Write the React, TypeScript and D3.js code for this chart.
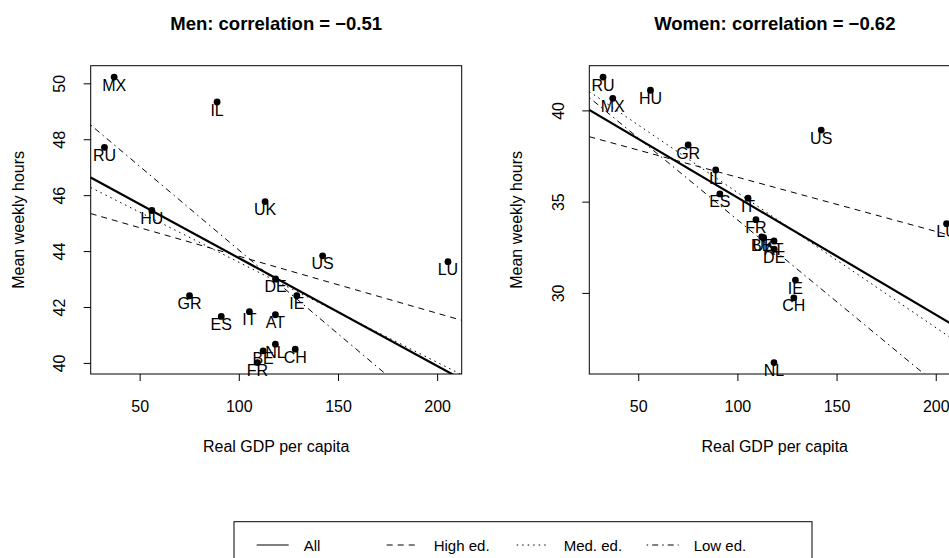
import React from "react";
import * as d3 from "d3";

const countries = ["MX","IL","RU","HU","UK","US","LU","DE","IE","GR","IT","AT","ES","NL","BE","CH","FR"];
const gdp = [36.9, 88.8, 32.0, 55.9, 113.0, 142.0, 205.2, 118.3, 129.0, 74.9, 105.1, 118.2, 90.9, 118.2, 112.0, 128.2, 109.1];
const menHours = [50.24, 49.35, 47.73, 45.47, 45.79, 43.85, 43.64, 43.02, 42.42, 42.42, 41.85, 41.74, 41.68, 40.69, 40.45, 40.51, 40.03];
const womenHours = [40.69, 36.76, 41.85, 41.13, 33.05, 38.95, 33.82, 32.42, 30.73, 38.13, 35.22, 32.87, 35.45, 26.21, 33.09, 29.76, 34.04];

const groups = ["All", "High ed.", "Med. ed.", "Low ed."];
const menIntercepts = [47.62, 45.87, 47.19, 50.03];
const menSlopes = [-0.0386, -0.0204, -0.0358, -0.0599];
const womenIntercepts = [41.66, 39.33, 42.91, 42.98];
const womenSlopes = [-0.0642, -0.0297, -0.074, -0.0897];

const xTicks = [50, 100, 150, 200];
const menYTicks = [40, 42, 44, 46, 48, 50];
const womenYTicks = [30, 35, 40];
const titles = ["Men: correlation = \u22120.51", "Women: correlation = \u22120.62"];

const W = 949, H = 558;
const FONT = "'Liberation Sans', Arial, Helvetica, sans-serif";
const FS = 16;
const dashes = [null, "6,5", "1.5,4", "1.5,4,6,4"];
const widths = [2.2, 1, 1, 1];

function ext(vals: number[]): [number, number] {
  const [a, b] = d3.extent(vals) as [number, number];
  const r = b - a;
  return [a - 0.04 * r, b + 0.04 * r];
}

function Panel({ idx, left, hours, ints, slopes, yTicks, title }: any) {
  const top = 65.7, bottom = 374, width = 371;
  const x = d3.scaleLinear().domain(ext(gdp)).range([left, left + width]);
  const y = d3.scaleLinear().domain(ext(hours)).range([bottom, top]);
  const [x0, x1] = x.domain();
  const cx = left + width / 2;
  const clipId = "clip" + idx;
  const line = d3.line<[number, number]>().x(d => x(d[0])).y(d => y(d[1]));
  return (
    <g>
      <defs>
        <clipPath id={clipId}>
          <rect x={left} y={top} width={width} height={bottom - top} />
        </clipPath>
      </defs>
      <text x={cx} y={30} textAnchor="middle" fontWeight="bold" fontSize={18.5} fontFamily={FONT}>{title}</text>
      <g clipPath={`url(#${clipId})`}>
        {ints.map((b: number, i: number) => (
          <path key={i} d={line([[x0, b + slopes[i] * x0], [x1, b + slopes[i] * x1]]) as string}
            fill="none" stroke="#000" strokeWidth={widths[i]} strokeDasharray={dashes[i] || undefined} />
        ))}
      </g>
      {countries.map((c, i) => (
        <g key={c}>
          <circle cx={x(gdp[i])} cy={y(hours[i])} r={3.4} fill="#000" />
          <text x={x(gdp[i])} y={y(hours[i]) + 13.5} textAnchor="middle" fontSize={FS} fontFamily={FONT}>{c}</text>
        </g>
      ))}
      <rect x={left} y={top} width={width} height={bottom - top} fill="none" stroke="#000" strokeWidth={1} />
      {xTicks.map(t => (
        <g key={t}>
          <line x1={x(t)} x2={x(t)} y1={bottom} y2={bottom + 7} stroke="#000" />
          <text x={x(t)} y={412} textAnchor="middle" fontSize={FS} fontFamily={FONT}>{t}</text>
        </g>
      ))}
      {yTicks.map((t: number) => (
        <g key={t}>
          <line x1={left - 7} x2={left} y1={y(t)} y2={y(t)} stroke="#000" />
          <text transform={`translate(${left - 31},${y(t)}) rotate(-90)`} textAnchor="middle" dy="0.35em" fontSize={FS} fontFamily={FONT}>{t}</text>
        </g>
      ))}
      <text x={cx} y={452} textAnchor="middle" fontSize={FS} fontFamily={FONT}>Real GDP per capita</text>
      <text transform={`translate(${left - 67},${(top + bottom) / 2}) rotate(-90)`} textAnchor="middle" fontSize={FS} fontFamily={FONT}>Mean weekly hours</text>
    </g>
  );
}

export default function App() {
  return (
    <svg width={W} height={H} style={{ position: "absolute", left: 0, top: 0, background: "#fff" }}>
      <rect width={W} height={H} fill="#fff" />
      <Panel idx={0} left={90.7} hours={menHours} ints={menIntercepts} slopes={menSlopes} yTicks={menYTicks} title={titles[0]} />
      <Panel idx={1} left={589.3} hours={womenHours} ints={womenIntercepts} slopes={womenSlopes} yTicks={womenYTicks} title={titles[1]} />
      <g>
        <rect x={234} y={521.7} width={578} height={60} fill="none" stroke="#000" strokeWidth={1} />
        {groups.map((g, i) => {
          const lx = 256.7 + i * 130;
          return (
            <g key={g}>
              <line x1={lx} x2={lx + 32} y1={545} y2={545} stroke="#000" strokeWidth={1} strokeDasharray={dashes[i] || undefined} />
              <text x={lx + 47} y={550.5} fontSize={15} fontFamily={FONT}>{g}</text>
            </g>
          );
        })}
      </g>
    </svg>
  );
}
